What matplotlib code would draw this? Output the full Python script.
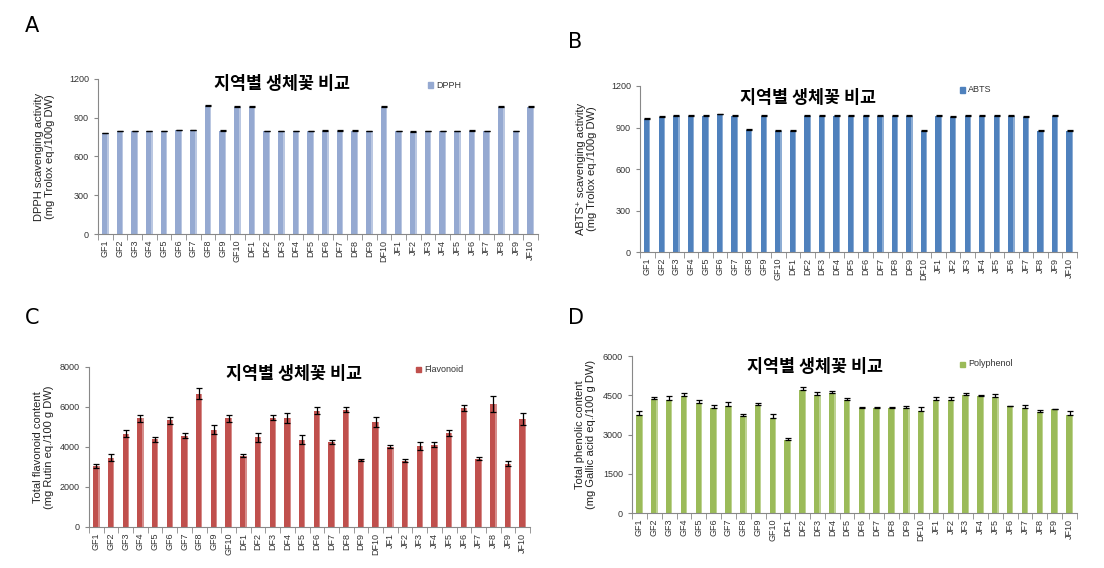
import numpy as np
import matplotlib
matplotlib.use('Agg')
import matplotlib.pyplot as plt
import matplotlib.colors as mcolors
from matplotlib.ticker import FixedLocator, NullFormatter


plt.rcParams['font.family'] = ['Liberation Sans', 'DejaVu Sans']

samples = ( ['GF%d' % i for i in range(1, 11)]
	+ ['DF%d' % i for i in range(1, 11)]
	+ ['JF%d' % i for i in range(1, 11)] )

dpph = [780, 795, 795, 795, 795, 803, 803, 994, 801, 986,
		986, 795, 795, 795, 795, 800, 800, 800, 795, 986,
		795, 793, 795, 795, 795, 800, 795, 986, 795, 986]
dpph_err = [5] * 30

abts = [964, 976, 983, 983, 983, 995, 985, 885, 985, 875,
		875, 985, 985, 985, 985, 985, 985, 985, 985, 875,
		985, 979, 985, 985, 985, 985, 979, 875, 985, 875]
abts_err = [5] * 30

flavonoid = [3050, 3460, 4660, 5430, 4380, 5330, 4560, 6660, 4860, 5430,
			3560, 4480, 5460, 5460, 4360, 5810, 4240, 5860, 3340, 5260,
			4020, 3310, 4040, 4110, 4690, 5950, 3410, 6130, 3170, 5400]
flavonoid_err = [120, 180, 180, 170, 120, 170, 130, 280, 230, 170,
				80, 220, 130, 250, 230, 180, 100, 130, 50, 260,
				70, 80, 200, 130, 150, 150, 70, 400, 120, 300]

polyphenol = [3760, 4340, 4320, 4470, 4220, 4000, 4100, 3690, 4130, 3630,
			2790, 4710, 4510, 4600, 4310, 4000, 4010, 4010, 4010, 3890,
			4320, 4320, 4510, 4480, 4450, 4090, 4010, 3870, 3960, 3760]
polyphenol_err = [130, 100, 165, 100, 90, 115, 140, 90, 75, 150,
				65, 90, 100, 65, 75, 40, 50, 50, 90, 150,
				100, 115, 75, 15, 100, 15, 100, 50, 10, 140]


def lighten( color, amount ) :
	c = np.array( mcolors.to_rgb( color ) )
	return tuple( c + ( 1 - c ) * amount )


def plot_panel( fig, rect, values, errs, color, legend, ylabel, ymax, ystep,
				letter, letter_pos, title_pos, legend_pos, both_err = False,
				labelpad = 10 ) :

	ax = fig.add_axes( rect )
	x = np.arange( len( samples ) )

	ax.bar( x - 0.04, values, width = 0.36, color = color, zorder = 2 )
	ax.bar( x + 0.18, values, width = 0.08, color = lighten( color, 0.35 ),
			zorder = 2 )

	errs = np.array( errs )
	if both_err :
		yerr = errs
	else :
		yerr = [ np.zeros_like( errs ), errs ]
	ax.errorbar( x, values, yerr = yerr, fmt = 'none', ecolor = 'black',
				elinewidth = 0.9, capsize = 2.0, capthick = 0.9, zorder = 3 )

	ax.set_xlim( -0.5, len( samples ) - 0.5 )
	ax.set_ylim( 0, ymax )
	ax.set_yticks( np.arange( 0, ymax + 1, ystep ) )
	ax.set_xticks( x )
	ax.set_xticklabels( samples, rotation = 90, fontsize = 6.5, color = '#333333' )
	ax.xaxis.set_minor_locator( FixedLocator( np.arange( -0.5, len( samples ), 1 ) ) )
	ax.xaxis.set_minor_formatter( NullFormatter() )
	ax.tick_params( axis = 'x', which = 'major', length = 0, pad = 4 )
	ax.tick_params( axis = 'x', which = 'minor', length = 4, color = '#888888',
					direction = 'out' )
	ax.tick_params( axis = 'y', labelsize = 6.5, length = 3, color = '#888888',
					labelcolor = '#333333' )

	for s in [ 'top', 'right' ] :
		ax.spines[s].set_visible( False )
	for s in [ 'left', 'bottom' ] :
		ax.spines[s].set_color( '#888888' )
		ax.spines[s].set_linewidth( 0.8 )

	ax.set_ylabel( ylabel, fontsize = 8, color = '#222222', labelpad = labelpad,
				linespacing = 1.1 )

	fig.text( title_pos[0] / 1104, 1 - title_pos[1] / 568, '지역별 생체꽃 비교',
			family = [ 'Noto Sans CJK KR', 'DejaVu Sans' ], fontweight = 'bold',
			fontsize = 12.5, ha = 'center', va = 'center' )

	lx, ly = legend_pos
	fig.patches.append( plt.Rectangle( ( lx / 1104, 1 - ( ly + 2.5 ) / 568 ),
			5 / 1104, 5 / 568, transform = fig.transFigure, color = color ) )
	fig.text( ( lx + 8 ) / 1104, 1 - ly / 568, legend, fontsize = 6.5,
			color = '#333333', va = 'center', ha = 'left' )

	fig.text( letter_pos[0] / 1104, 1 - letter_pos[1] / 568, letter,
			fontsize = 15, family = 'DejaVu Sans', va = 'center', ha = 'left' )

	return ax


fig = plt.figure( figsize = ( 11.04, 5.68 ), dpi = 100 )

plot_panel( fig, [ 0.0888, 0.588, 0.3985, 0.273 ], dpph, dpph_err, '#95A9D1',
			'DPPH', 'DPPH scavenging activity\n(mg Trolox eq./100g DW)',
			1200, 300, 'A', ( 25, 26 ), ( 282, 84 ), ( 428, 85 ) )

plot_panel( fig, [ 0.5797, 0.5563, 0.3958, 0.2923 ], abts, abts_err, '#4F81BD',
			'ABTS', 'ABTS⁺ scavenging activity\n(mg Trolox eq./100g DW)',
			1200, 300, 'B', ( 568, 42 ), ( 808, 98 ), ( 960, 90 ) )

plot_panel( fig, [ 0.0806, 0.0722, 0.3995, 0.2817 ], flavonoid, flavonoid_err,
			'#C0504D', 'Flavonoid',
			'Total flavonoid content\n(mg Rutin eq./100 g DW)',
			8000, 2000, 'C', ( 25, 318 ), ( 294, 374 ), ( 416, 369 ),
			both_err = True, labelpad = 4 )

plot_panel( fig, [ 0.5725, 0.0968, 0.403, 0.2764 ], polyphenol, polyphenol_err,
			'#9BBB59', 'Polyphenol',
			'Total phenolic content\n(mg Gallic acid eq./100 g DW)',
			6000, 1500, 'D', ( 568, 318 ), ( 815, 367 ), ( 960, 364 ),
			labelpad = 5 )

fig.savefig( 'out.png', dpi = 100 )
